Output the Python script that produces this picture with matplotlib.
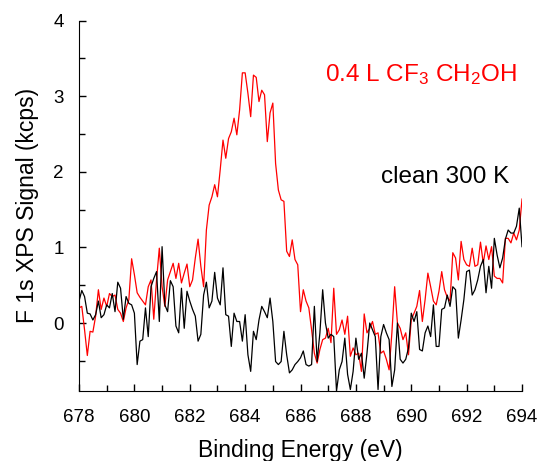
import numpy as np
import matplotlib.pyplot as plt
from matplotlib.ticker import MultipleLocator

plt.rcParams['font.family'] = ['Liberation Sans', 'DejaVu Sans']
plt.rcParams['mathtext.fontset'] = 'custom'
plt.rcParams['mathtext.rm'] = 'Liberation Sans'
plt.rcParams['mathtext.it'] = 'Liberation Sans:italic'

# binding energy grid, 0.1 eV steps
energy = np.round(np.arange(678.0, 694.01, 0.1), 1)

# 0.4 L CF3CH2OH dose (kcps)
dosed = [0.20, 0.22, -0.09, -0.43, -0.11, -0.12, 0.09, 0.44, 0.18, 0.33,
         0.22, 0.39, 0.35, 0.37, 0.18, 0.13, 0.02, 0.20, 0.31, 0.85,
         0.64, 0.40, 0.34, 0.29, 0.24, 0.48, 0.57, 0.05, 0.57, 0.99,
         0.48, 0.22, 0.57, 0.68, 0.79, 0.59, 0.79, 0.53, 0.66, 0.78,
         0.48, 0.57, 0.86, 1.11, 0.75, 0.48, 1.23, 1.56, 1.67, 1.83,
         1.67, 2.03, 2.42, 2.18, 2.44, 2.53, 2.71, 2.49, 2.82, 3.31,
         3.31, 3.04, 2.73, 3.28, 3.25, 2.93, 3.08, 3.02, 2.40, 2.78,
         2.91, 2.11, 1.76, 1.63, 1.61, 0.95, 0.88, 1.10, 0.84, 0.77,
         0.15, 0.44, 0.29, 0.20, -0.09, -0.40, -0.53, -0.35, -0.22, -0.20,
         -0.07, -0.26, 0.46, -0.15, -0.09, 0.04, -0.15, 0.09, -0.44, -0.33,
         -0.42, -0.40, -0.64, 0.12, -0.13, -0.07, 0.02, -0.15, -0.13, -0.40,
         -0.37, -0.48, -0.62, -0.13, 0.48, 0.00, -0.07, -0.22, -0.13, -0.42,
         0.04, 0.13, 0.22, 0.43, 0.02, 0.31, 0.66, 0.48, 0.29, 0.24,
         0.42, 0.68, 0.44, 0.34, 0.29, 0.93, 0.86, 0.57, 1.08, 0.84,
         0.77, 0.75, 0.99, 0.75, 0.77, 1.07, 0.79, 1.02, 0.84, 1.01,
         0.62, 0.59, 0.59, 0.53, 1.12, 1.12, 1.06, 1.19, 1.10, 1.23,
         1.64]

# clean surface at 300 K (kcps)
clean = [0.29, 0.43, 0.35, 0.13, 0.12, 0.04, 0.11, 0.29, 0.07, 0.11,
         0.24, 0.20, 0.39, 0.15, 0.54, 0.46, 0.05, 0.35, 0.26, 0.24,
         0.13, -0.55, -0.24, -0.22, 0.20, -0.18, 0.48, 0.59, 0.68, 0.02,
         1.01, 0.24, 0.15, 0.56, 0.48, -0.04, -0.13, 0.46, -0.07, 0.42,
         0.29, 0.18, 0.09, -0.24, -0.15, 0.37, 0.54, 0.20, 0.29, 0.67,
         0.33, 0.24, 0.73, 0.11, 0.09, -0.31, 0.13, 0.02, 0.02, -0.24,
         0.11, -0.42, -0.64, -0.11, -0.22, 0.04, 0.22, 0.15, 0.07, 0.33,
         0.02, -0.51, -0.55, -0.51, -0.11, -0.42, -0.66, -0.62, -0.55, -0.51,
         -0.46, -0.37, -0.55, -0.57, -0.55, 0.22, -0.51, -0.13, 0.44, 0.00,
         -0.20, -0.15, -0.18, -0.90, -0.62, -0.51, -0.20, -0.68, -0.88, -0.64,
         -0.20, -0.48, -0.40, -0.73, -0.40, 0.00, -0.09, -0.18, -0.88, -0.18,
         -0.02, -0.13, -0.22, -0.84, -0.62, 0.00, -0.48, -0.53, -0.48, -0.33,
         0.13, 0.02, 0.15, -0.35, -0.37, -0.13, -0.04, -0.18, 0.24, -0.31,
         -0.31, 0.18, 0.20, 0.37, 0.22, 0.48, 0.44, -0.20, 0.04, 0.31,
         0.68, 0.70, 0.37, 0.44, 0.57, 0.75, 0.84, 0.40, 0.75, 0.46,
         1.12, 0.90, 0.73, 0.86, 1.11, 1.23, 1.19, 1.19, 1.28, 1.52,
         1.01]

fig = plt.figure(figsize=(5.39, 4.61), dpi=100)
ax = fig.add_axes([0.1466, 0.1518, 0.8219, 0.8033])

ax.plot(energy, dosed, color='red', lw=0.9)
ax.plot(energy, clean, color='black', lw=0.9)

ax.set_xlim(678, 694)
ax.set_ylim(-0.9, 4)
ax.xaxis.set_major_locator(MultipleLocator(2))
ax.xaxis.set_minor_locator(MultipleLocator(1))
ax.yaxis.set_major_locator(MultipleLocator(1))
ax.yaxis.set_minor_locator(MultipleLocator(0.5))
ax.tick_params(which='both', direction='in', labelsize=13.5, width=1)
ax.tick_params(which='major', length=5)
ax.tick_params(which='minor', length=4)
ax.tick_params(axis='x', pad=13)
ax.tick_params(axis='y', pad=11)
ax.spines['top'].set_visible(False)
ax.spines['right'].set_visible(False)

ax.set_xlabel('Binding Energy (eV)', fontsize=16.5, labelpad=9)
ax.set_ylabel('F 1s XPS Signal (kcps)', fontsize=16.5, labelpad=10)

ax.text(686.9, 3.2, r'0.4 L CF$_3$ CH$_2$OH', color='red', fontsize=17.5)
ax.text(688.9, 1.85, 'clean 300 K', color='black', fontsize=17.5)

fig.savefig('out.png', dpi=100)
